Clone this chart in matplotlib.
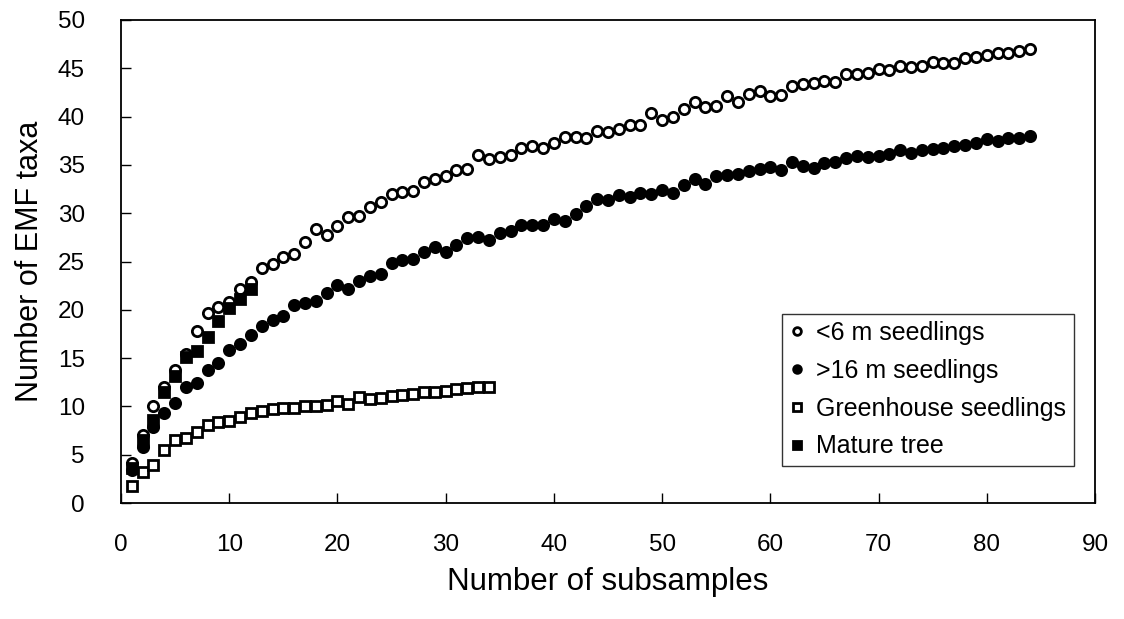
import matplotlib
matplotlib.use("Agg")
import matplotlib.pyplot as plt
import numpy as np

plt.rcParams['font.family'] = ['Liberation Sans', 'DejaVu Sans']

# ---- data ----
small_x = list(range(1, 85))
small_y = [4.1, 7.0, 10.0, 12.0, 13.8, 15.4, 17.8, 19.7, 20.3, 20.8,
           22.2, 22.9, 24.3, 24.7, 25.5, 25.8, 27.0, 28.4, 27.7, 28.7,
           29.6, 29.7, 30.6, 31.2, 32.0, 32.2, 32.3, 33.2, 33.5, 33.8,
           34.5, 34.6, 36.0, 35.6, 35.8, 36.0, 36.8, 37.0, 36.8, 37.3,
           37.9, 37.9, 37.8, 38.5, 38.4, 38.7, 39.1, 39.1, 40.4, 39.6,
           40.0, 40.8, 41.5, 41.0, 41.1, 42.1, 41.5, 42.3, 42.6, 42.1,
           42.2, 43.2, 43.4, 43.5, 43.7, 43.6, 44.4, 44.4, 44.5, 44.9,
           44.8, 45.2, 45.1, 45.2, 45.7, 45.6, 45.6, 46.1, 46.2, 46.4,
           46.6, 46.6, 46.8, 47.0]

large_x = list(range(1, 85))
large_y = [3.4, 5.8, 7.9, 9.3, 10.4, 12.0, 12.4, 13.8, 14.5, 15.8,
           16.5, 17.4, 18.3, 18.9, 19.4, 20.5, 20.7, 20.9, 21.7, 22.6,
           22.2, 23.0, 23.5, 23.7, 24.8, 25.2, 25.3, 26.0, 26.5, 26.0,
           26.7, 27.4, 27.5, 27.2, 28.0, 28.2, 28.8, 28.8, 28.8, 29.4,
           29.2, 29.9, 30.7, 31.5, 31.4, 31.9, 31.7, 32.1, 32.0, 32.4,
           32.1, 32.9, 33.5, 33.0, 33.8, 34.0, 34.1, 34.4, 34.6, 34.8,
           34.5, 35.3, 34.9, 34.7, 35.2, 35.3, 35.7, 35.9, 35.8, 35.9,
           36.1, 36.5, 36.2, 36.5, 36.6, 36.8, 37.0, 37.1, 37.3, 37.7,
           37.5, 37.8, 37.8, 38.0]

green_x = list(range(1, 35))
green_y = [1.8, 3.2, 3.9, 5.5, 6.5, 6.7, 7.3, 8.1, 8.4, 8.5,
           8.9, 9.3, 9.5, 9.7, 9.8, 9.8, 10.0, 10.0, 10.1, 10.6,
           10.3, 11.0, 10.8, 10.9, 11.1, 11.2, 11.3, 11.5, 11.5, 11.6,
           11.8, 11.9, 12.0, 12.0]

mature_x = list(range(1, 13))
mature_y = [3.6, 6.5, 8.6, 11.5, 13.1, 15.1, 15.7, 17.2, 18.8, 20.2, 21.1, 22.2]

labels = ['<6 m seedlings', '>16 m seedlings', 'Greenhouse seedlings', 'Mature tree']

# ---- figure ----
W, H = 1124, 619
fig = plt.figure(figsize=(W / 100, H / 100), dpi=100)
ax = fig.add_axes([121 / W, (H - 503) / H, 974 / W, 483 / H])

ms = 7.4
mew = 2.0
ax.plot(small_x, small_y, 'o', ms=ms, mfc='white', mec='black', mew=mew, ls='none', label=labels[0], zorder=3)
ax.plot(large_x, large_y, 'o', ms=ms, mfc='black', mec='black', mew=mew, ls='none', label=labels[1], zorder=3)
ax.plot(green_x, green_y, 's', ms=ms, mfc='white', mec='black', mew=mew, ls='none', label=labels[2], zorder=3)
ax.plot(mature_x, mature_y, 's', ms=ms, mfc='black', mec='black', mew=mew, ls='none', label=labels[3], zorder=4)

ax.set_xlim(0, 90)
ax.set_ylim(0, 50)
ax.set_xticks(np.arange(0, 91, 10))
ax.set_yticks(np.arange(0, 51, 5))
ax.tick_params(axis='both', direction='in', length=7, width=1, labelsize=17.5, color='black')
ax.tick_params(axis='x', pad=22)
ax.tick_params(axis='y', pad=26)
for s in ax.spines.values():
    s.set_linewidth(1.3)
    s.set_color('black')

ax.set_xlabel('Number of subsamples', fontsize=22.5, labelpad=8)
ax.set_ylabel('Number of EMF taxa', fontsize=22, labelpad=9)

leg = ax.legend(loc='lower right', bbox_to_anchor=(0.978, 0.077), fontsize=18,
                frameon=True, fancybox=False, edgecolor='black', handlelength=0.6,
                handletextpad=0.45, borderpad=0.3, labelspacing=0.55, markerscale=0.75,
                borderaxespad=0)
leg.get_frame().set_linewidth(1.0)

fig.savefig('out.png', dpi=100, facecolor='white')
